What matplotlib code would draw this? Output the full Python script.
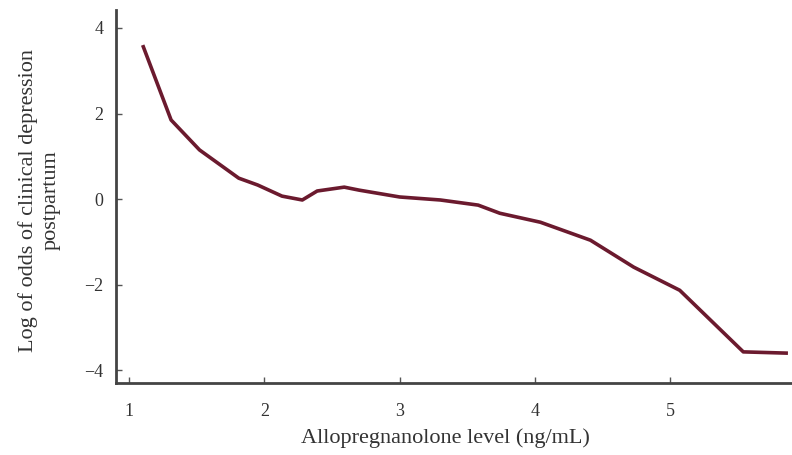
import matplotlib
matplotlib.use("Agg")
import matplotlib.pyplot as plt

# curve
allo_level = [1.10, 1.31, 1.52, 1.81, 1.95, 2.13, 2.28, 2.39, 2.59, 2.70, 3.00,
              3.30, 3.58, 3.74, 4.04, 4.41, 4.73, 5.07, 5.54, 5.87]
log_odds = [3.60, 1.85, 1.15, 0.49, 0.33, 0.07, -0.02, 0.19, 0.28, 0.21, 0.05,
            -0.02, -0.14, -0.33, -0.54, -0.96, -1.59, -2.13, -3.57, -3.60]
x_ticks = [1, 2, 3, 4, 5]
y_ticks = [-4, -2, 0, 2, 4]

plt.rcParams["font.family"] = ["Liberation Serif", "DejaVu Serif"]

fig = plt.figure(figsize=(7.92, 4.55), dpi=100)
ax = fig.add_axes([0.146, 0.158, 0.854, 0.82])

ax.plot(allo_level, log_odds, color="#6b1a2e", linewidth=2.6, solid_capstyle="butt")

ax.set_xlim(0.9, 5.9)
ax.set_ylim(-4.3, 4.42)
ax.set_xticks(x_ticks)
ax.set_yticks(y_ticks)
ax.set_yticklabels(["\u22124", "\u22122", "0", "2", "4"])

for s in ["top", "right"]:
    ax.spines[s].set_visible(False)
for s in ["left", "bottom"]:
    ax.spines[s].set_color("#444444")
    ax.spines[s].set_linewidth(2)

ax.tick_params(direction="in", length=4, width=1, colors="#555555",
               labelcolor="#333333", labelsize=13)
ax.tick_params(axis="x", pad=14)
ax.tick_params(axis="y", pad=9)

# axis titles placed by hand in figure coordinates
fig.text(0.562, 0.037, "Allopregnanolone level (ng/mL)", fontsize=16,
         color="#333333", ha="center", va="center")
fig.text(0.05, 0.56, "Log of odds of clinical depression\npostpartum", fontsize=16,
         color="#333333", ha="center", va="center", rotation=90,
         linespacing=1.3, multialignment="center")

fig.savefig("out.png", dpi=100)
